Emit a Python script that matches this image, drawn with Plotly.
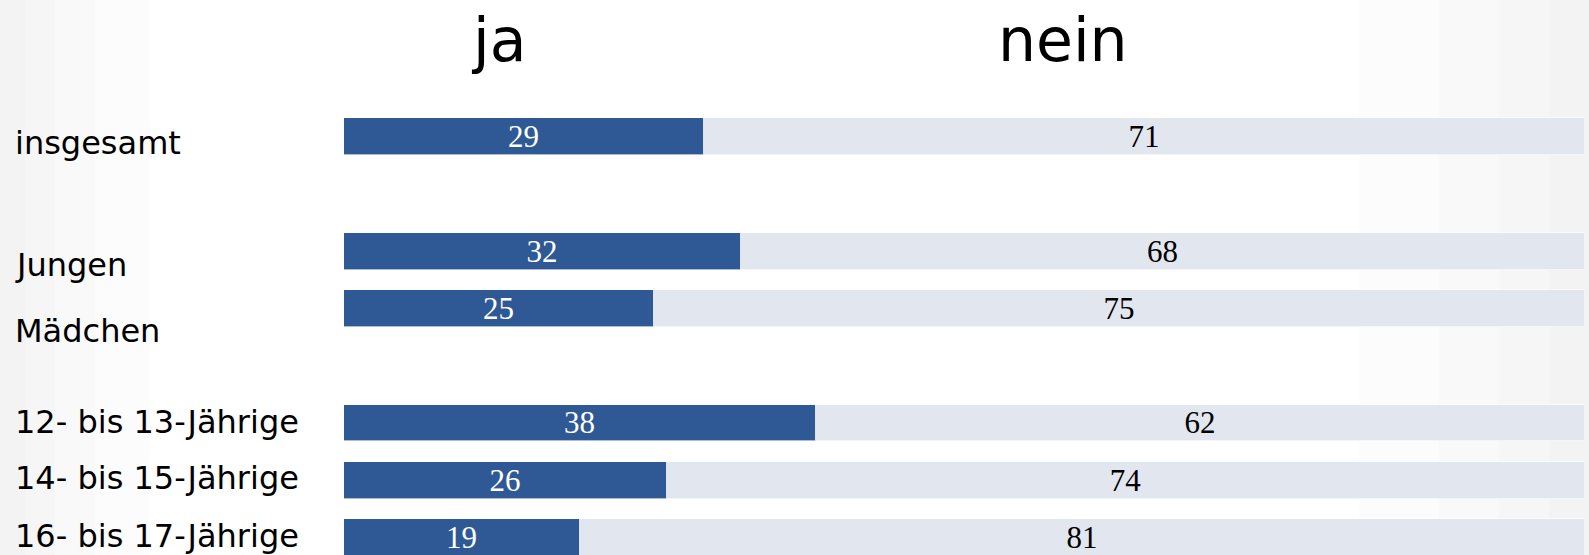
import plotly.graph_objects as go

# ---- data ----
categories = ["insgesamt", "Jungen", "Mädchen",
              "12- bis 13-Jährige", "14- bis 15-Jährige", "16- bis 17-Jährige"]
slots = [0, 2, 3, 5, 6, 7]          # row slots (gaps separate the groups)
ja_values = [29, 32, 25, 38, 26, 19]
nein_values = [71, 68, 75, 62, 74, 81]
series_names = ["ja", "nein"]

# ---- style ----
W, H = 1589, 555
BLUE = "#2E5995"
LIGHT = "#E2E7EF"
label_shift = [-6, -14, -23, 1, 2, 2]   # vertical tweak of row labels (px)

fig = go.Figure()
fig.add_trace(go.Bar(
    y=slots, x=ja_values, orientation="h", name=series_names[0],
    marker=dict(color=BLUE, line=dict(color="rgba(255,255,255,0.6)", width=1)),
    width=0.645, text=[str(v) for v in ja_values], textangle=0,
    textposition="inside", insidetextanchor="middle", constraintext="none",
    textfont=dict(family="Liberation Serif", size=31, color="white"),
    hoverinfo="skip",
))
fig.add_trace(go.Bar(
    y=slots, x=nein_values, orientation="h", name=series_names[1],
    marker=dict(color=LIGHT, line=dict(color="rgba(255,255,255,0.6)", width=1)),
    width=0.645, text=[str(v) for v in nein_values], textangle=0,
    textposition="inside", insidetextanchor="middle", constraintext="none",
    textfont=dict(family="Liberation Serif", size=31, color="black"),
    hoverinfo="skip",
))

annotations = []
for cat, s, sh in zip(categories, slots, label_shift):
    annotations.append(dict(
        text=cat, xref="paper", yref="y", x=13 / W, y=s, xanchor="left",
        yanchor="middle", yshift=sh, showarrow=False,
        font=dict(family="DejaVu Sans", size=32, color="black"),
    ))
# column headers
for name, xp in zip(series_names, [498, 1063]):
    annotations.append(dict(
        text=name, xref="paper", yref="paper", x=xp / W, y=1 - 40 / H,
        xanchor="center", yanchor="middle", showarrow=False,
        font=dict(family="DejaVu Sans", size=60, color="black"),
    ))

# subtle gray gradient at the page edges
shapes = []
for w in [25, 55, 95, 150]:
    shapes.append(dict(type="rect", xref="paper", yref="paper", x0=0, x1=w / W,
                       y0=0, y1=1, fillcolor="rgba(0,0,0,0.010)", line_width=0,
                       layer="below"))
for w in [40, 90, 150, 230]:
    shapes.append(dict(type="rect", xref="paper", yref="paper", x0=1 - w / W, x1=1,
                       y0=0, y1=1, fillcolor="rgba(0,0,0,0.010)", line_width=0,
                       layer="below"))

px_per_unit = 12.41
x_start = 344
slot_px = 57.3
slot0_px = 136.5

fig.update_layout(
    width=W, height=H, margin=dict(l=0, r=0, t=0, b=0),
    barmode="stack", showlegend=False, bargap=0,
    paper_bgcolor="white", plot_bgcolor="rgba(0,0,0,0)",
    xaxis=dict(range=[-x_start / px_per_unit, (W - x_start) / px_per_unit],
               visible=False, fixedrange=True),
    yaxis=dict(range=[(H - slot0_px) / slot_px, -slot0_px / slot_px],
               visible=False, fixedrange=True),
    annotations=annotations, shapes=shapes,
)

fig.write_html("out.html")
